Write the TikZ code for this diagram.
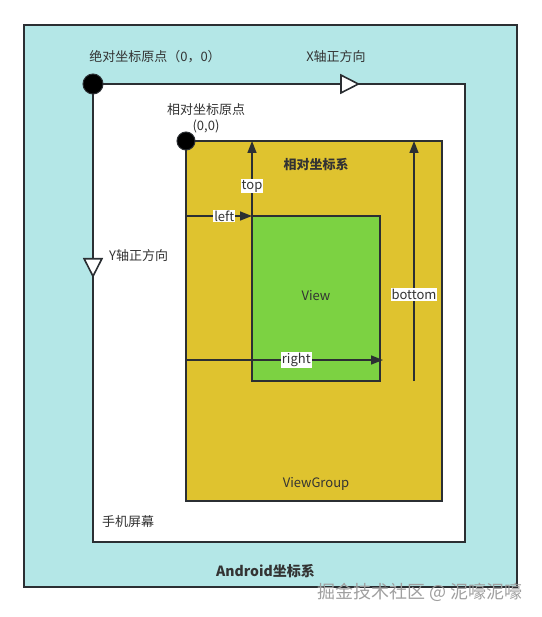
\documentclass[tikz,border=0pt]{standalone}
\usepackage{fontspec}
\setmainfont{Noto Sans CJK SC}
\usetikzlibrary{arrows.meta,decorations.markings}
\definecolor{bgColor}{HTML}{B4E7E7}
\definecolor{vgColor}{HTML}{DFC32F}
\definecolor{viewColor}{HTML}{7CD242}
\definecolor{lineColor}{HTML}{2B2F33}
\definecolor{txtColor}{HTML}{333333}
\newcommand{\txt}{\fontsize{13bp}{16bp}\selectfont}
\tikzset{
	box/.style={draw=lineColor, line width=1.6bp, inner sep=0, outer sep=0},
	dot/.style={circle, fill=black, draw=lineColor, line width=1bp, minimum size=20bp, inner sep=0},
	lab/.style={fill=white, inner sep=1bp, text=txtColor},
	bold/.style={font=\fontsize{14bp}{16bp}\selectfont\bfseries},
	-tri-/.style={decoration={
			markings,
			mark=at position #1 with {\arrow{Triangle[open,fill=white,length=20bp,width=20bp]}}},postaction={decorate}}
}

\begin{document}
\begin{tikzpicture}[x=1bp,y=-1bp,>={Triangle[length=12bp,width=9bp]},
				line width=1.6bp, color=lineColor, text=txtColor, font=\txt]
				\useasboundingbox (0,0) rectangle (542,617);
				% the nested boxes
				\node[box, fill=bgColor, minimum width=493bp, minimum height=562bp] (android) at (270.5,306) {};
				\node[box, fill=white, minimum width=372bp, minimum height=458bp] (screen) at (279,313) {};
				\node[box, fill=vgColor, minimum width=256bp, minimum height=360bp] (vg) at (314,321) {};
				\node[box, fill=viewColor, minimum width=128bp, minimum height=165bp] (view) at (316,298.5) {};
				
				% absolute axes
				\node[dot] (abs) at (screen.north west) {};
				\draw[-tri-=0.71] (abs) -- (screen.north east);
				\draw[-tri-=0.41] (abs) -- (screen.south west);
				\node (absLab) at (155,57) {绝对坐标原点（0，0）};
				\node (xLab) at (336,57) {X轴正方向};
				\node[anchor=west] (yLab) at (105,256) {Y轴正方向};
				
				% relative origin and distances
				\node[dot, minimum size=18bp] (rel) at (vg.north west) {};
				\node[align=center, inner sep=0] (relLab) at (206,118) {相对坐标原点\\(0,0)};
				\coordinate (rightEnd) at (383,360);
				\coordinate (bottomStart) at (414,381);
				\draw[->] (view.north west) -- (view.north west |- vg.north) node[lab, pos=0.4] (topLab) {top};
				\draw[->] (vg.west |- view.north) -- (view.north west) node[lab, pos=0.58] (leftLab) {left};
				\draw[->] (vg.west |- rightEnd) -- (rightEnd) node[lab, pos=0.56] (rightLab) {right};
				\draw[->] (bottomStart) -- (bottomStart |- vg.north) node[lab, pos=0.36] (bottomLab) {bottom};
				
				% box titles
				\node[bold, font=\txt\bfseries] (relSys) at (316,165) {相对坐标系};
				\node (viewLab) at (316,296) {View};
				\node (vgLab) at (316,484) {ViewGroup};
				\node (screenLab) at (128,522) {手机屏幕};
				\node[bold] (androidLab) at (265.5,571) {Android坐标系};
				\node[text=gray!75, font=\fontsize{18bp}{20bp}\selectfont] (markLab) at (420,592) {掘金技术社区 @ 泥嚎泥嚎};
			\end{tikzpicture}
\end{document}
